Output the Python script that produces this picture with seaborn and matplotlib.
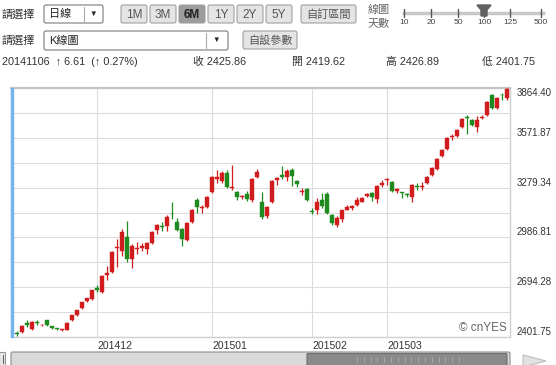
import numpy as np
import pandas as pd
import matplotlib
matplotlib.use("Agg")
import matplotlib.pyplot as plt
import seaborn as sns
from matplotlib.patches import Rectangle, FancyBboxPatch, Polygon

# ---------------- data ----------------
open_ = [2419.62, 2426, 2431, 2484, 2448, 2489, 2470, 2501, 2466, 2450,
         2441, 2443, 2501, 2530, 2571, 2612, 2624, 2688, 2665, 2764,
         2782, 2925, 2905, 2987, 2858, 2917, 2922, 2917, 2952, 3028,
         3055, 3051, 3127, 3080, 3034, 2969, 3075, 3209, 3157, 3168,
         3256, 3332, 3320, 3367, 3275, 3256, 3224, 3244, 3209, 3343,
         3192, 3110, 3192, 3326, 3355, 3343, 3385, 3320, 3253, 3273,
         3140, 3150, 3209, 3244, 3116, 3057, 3092, 3150, 3162, 3180,
         3197, 3232, 3250, 3215, 3297, 3324, 3314, 3262, 3250, 3244,
         3227, 3285, 3281, 3308, 3355, 3390, 3466, 3507, 3578, 3584,
         3636, 3691, 3677, 3636, 3689, 3706, 3823, 3747, 3825, 3806]
high_ = [2426.89, 2437, 2472, 2501, 2495, 2501, 2478, 2504, 2469, 2454,
         2448, 2487, 2533, 2563, 2609, 2633, 2680, 2706, 2765, 2817,
         2905, 2975, 3034, 3086, 2946, 2957, 2952, 2957, 3022, 3063,
         3075, 3116, 3192, 3098, 3040, 3075, 3156, 3221, 3180, 3232,
         3350, 3385, 3379, 3385, 3414, 3262, 3238, 3262, 3338, 3390,
         3256, 3172, 3326, 3344, 3408, 3390, 3396, 3326, 3279, 3279,
         3162, 3221, 3250, 3256, 3127, 3110, 3150, 3180, 3180, 3227,
         3227, 3250, 3256, 3297, 3326, 3338, 3320, 3279, 3256, 3250,
         3303, 3308, 3314, 3350, 3402, 3455, 3508, 3578, 3595, 3625,
         3689, 3706, 3683, 3700, 3706, 3788, 3830, 3812, 3835, 3864.40]
low_ = [2401.75, 2408, 2425, 2460, 2443, 2472, 2466, 2469, 2451, 2442,
        2437, 2440, 2498, 2527, 2568, 2609, 2621, 2665, 2659, 2735,
        2776, 2811, 2876, 2840, 2805, 2887, 2905, 2887, 2946, 3005,
        3022, 3022, 3092, 3022, 2934, 2963, 3069, 3133, 3133, 3162,
        3250, 3308, 3308, 3279, 3268, 3209, 3210, 3198, 3192, 3338,
        3092, 3098, 3186, 3297, 3332, 3320, 3291, 3285, 3238, 3198,
        3122, 3127, 3162, 3127, 3057, 3045, 3080, 3145, 3150, 3174,
        3192, 3227, 3203, 3186, 3285, 3297, 3256, 3250, 3221, 3227,
        3192, 3268, 3268, 3303, 3350, 3385, 3461, 3502, 3560, 3578,
        3630, 3595, 3642, 3607, 3683, 3700, 3741, 3741, 3794, 3794]
close_ = [2425.86, 2421, 2466, 2472, 2489, 2484, 2475, 2472, 2454, 2447,
          2445, 2484, 2530, 2560, 2606, 2630, 2677, 2680, 2759, 2776,
          2899, 2929, 3016, 2858, 2934, 2922, 2934, 2952, 3016, 3057,
          3050, 3104, 3122, 3028, 2975, 3069, 3150, 3168, 3163, 3226,
          3343, 3343, 3367, 3285, 3279, 3227, 3228, 3215, 3332, 3373,
          3104, 3168, 3320, 3338, 3343, 3379, 3350, 3303, 3257, 3209,
          3135, 3197, 3174, 3133, 3069, 3100, 3145, 3165, 3174, 3209,
          3221, 3244, 3227, 3291, 3308, 3326, 3262, 3273, 3247, 3233,
          3297, 3281, 3285, 3343, 3396, 3449, 3502, 3572, 3584, 3619,
          3683, 3689, 3648, 3677, 3695, 3782, 3747, 3806, 3821, 3858]

month_labels = ["201412", "201501", "201502", "201503"]
month_start_idx = [17, 40, 60, 75]

y_min, y_max = 2401.75, 3864.40

header_date = "20141106"
header_change = "\u2191 6.61 (\u2191 0.27%)"
header_fields = [("收", "2425.86"), ("開", "2419.62"), ("高", "2426.89"), ("低", "2401.75")]
period_buttons = ["1M", "3M", "6M", "1Y", "2Y", "5Y"]
day_choices = ["10", "20", "50", "100", "125", "500"]

df = pd.DataFrame({"open": open_, "high": high_, "low": low_, "close": close_})
df["idx"] = np.arange(len(df))
df["up"] = df["close"] >= df["open"]

# ---------------- style ----------------
sns.set_style("white")
plt.rcParams["font.family"] = ["Liberation Sans", "Noto Sans CJK TC", "DejaVu Sans"]

RED = "#d01c1c"
GREEN = "#1f8a1f"
TXT = "#333333"

W, H = 556, 365
fig = plt.figure(figsize=(W / 100, H / 100), dpi=100)
fig.patch.set_facecolor("white")

# overlay in pixel coordinates for UI chrome
ui = fig.add_axes([0, 0, 1, 1], zorder=0)
ui.set_xlim(0, W)
ui.set_ylim(H, 0)
ui.axis("off")

# chart axes
L, R, T, B = 11, 510, 88, 337
ax = fig.add_axes([L / W, 1 - B / H, (R - L) / W, (B - T) / H], zorder=2)
ax.set_facecolor("white")

colors = np.where(df["up"], RED, GREEN)
ax.vlines(df["idx"], df["low"], df["high"], colors=colors, linewidth=0.9, zorder=3)
body_bottom = np.minimum(df["open"], df["close"])
body_h = np.maximum(np.abs(df["close"] - df["open"]), 5.0)
ax.bar(df["idx"], body_h, bottom=body_bottom, width=0.75, color=colors,
       edgecolor=colors, linewidth=0.3, zorder=4)

ax.set_xlim(-0.2, 99.6)
ax.set_ylim(y_min, y_max)

step = (y_max - y_min) / 10
yt = [y_min + k * step for k in range(11)]
ax.set_yticks(yt)
ax.set_yticklabels([f"{v:.2f}" if k % 2 == 0 else "" for k, v in enumerate(yt)])
ax.yaxis.tick_right()
ax.tick_params(axis="y", length=0, pad=5, labelsize=7, labelcolor=TXT)
for k, lab in enumerate(ax.get_yticklabels()):
    lab.set_verticalalignment("top" if k == 10 else "bottom")

ax.set_xticks(month_start_idx)
ax.set_xticklabels(month_labels)
ax.tick_params(axis="x", length=0, pad=3, labelsize=7.5, labelcolor=TXT)
for lab in ax.get_xticklabels():
    lab.set_horizontalalignment("left")

ax.grid(True, color="#dcdcdc", linewidth=0.8)
ax.set_axisbelow(True)
for s in ["left", "right", "bottom"]:
    ax.spines[s].set_color("#cfcfcf")
    ax.spines[s].set_linewidth(1.0)
ax.spines["top"].set_color("#c4c4c4")
ax.spines["top"].set_linewidth(1.6)

ax.text(0.993, 0.038, "\u00a9 cnYES", transform=ax.transAxes, ha="right", va="center",
        fontsize=8.5, color="#666666", zorder=5)

# blue marker line at left of chart
ax.add_patch(Rectangle((0, 0), 0.004, 1, transform=ax.transAxes, color="#74b4ee",
                       zorder=6, clip_on=False))

# ---------------- UI chrome ----------------
def box(x0, y0, x1, y1, fc, ec, lw=0.8, r=2, z=1):
    ui.add_patch(FancyBboxPatch((x0, y0), x1 - x0, y1 - y0,
                                boxstyle=f"round,pad=0,rounding_size={r}",
                                fc=fc, ec=ec, lw=lw, zorder=z))

# row 1
ui.text(2, 14, "請選擇", fontsize=8, color=TXT, va="center", ha="left")
box(44, 5, 103, 23, "white", "#7a7a7a")
ui.text(49, 14, "日線", fontsize=8, color="#222", va="center", ha="left")
ui.plot([84, 84], [7, 21], color="#aaaaaa", lw=0.8)
ui.text(93.5, 14, "\u25bc", fontsize=5.5, color="#222", va="center", ha="center")

bx = [121, 150, 179, 208, 237, 266]
for lab, x0 in zip(period_buttons, bx):
    sel = lab == "6M"
    box(x0, 5, x0 + 26, 23, "#9c9c9c" if sel else "#e4e4e4", "#a0a0a0")
    ui.text(x0 + 13, 14.5, lab, fontsize=8.5, color="#222" if sel else "#555",
            fontweight="bold" if sel else "normal", ha="center", va="center")
box(301, 5, 356, 23, "#e4e4e4", "#a0a0a0")
ui.text(328.5, 14.5, "自訂區間", fontsize=8, color="#555", ha="center", va="center")

ui.text(368, 10, "線圖", fontsize=8, color="#666", ha="left", va="center")
ui.text(368, 23, "天數", fontsize=8, color="#666", ha="left", va="center")
ui.plot([402, 545], [13, 13], color="#c8c8c8", lw=2.5, solid_capstyle="butt")
tick_x = [404, 431, 458, 484, 510, 541]
for tx, lab in zip(tick_x, day_choices):
    ui.plot([tx, tx], [9, 17], color="#555555", lw=1)
    ui.text(tx, 23, lab, fontsize=6, color="#444", ha="center", va="center")
ui.add_patch(Polygon([(477, 5), (491, 5), (487, 10), (487, 16), (481, 16), (481, 10)],
                     closed=True, fc="#606060", ec="#606060", zorder=3))

# row 2
ui.text(2, 40, "請選擇", fontsize=8, color=TXT, va="center", ha="left")
box(44, 31, 228, 50, "white", "#7a7a7a")
ui.text(49, 40.5, "K線圖", fontsize=8, color="#222", va="center", ha="left")
ui.plot([206, 206], [33, 48], color="#aaaaaa", lw=0.8)
ui.text(216.5, 40.5, "\u25bc", fontsize=5.5, color="#222", va="center", ha="center")
box(243, 31, 297, 49, "#e4e4e4", "#a0a0a0")
ui.text(270, 40.5, "自設參數", fontsize=8, color="#555", ha="center", va="center")

# row 3
ui.text(2, 62, f"{header_date}  {header_change.replace('(', ' (')}", fontsize=7.8,
        color=TXT, va="center", ha="left")
for (k, v), x0 in zip(header_fields, [193, 292, 386, 482]):
    ui.text(x0, 62, f"{k} {v}", fontsize=7.8, color=TXT, va="center", ha="left")

# bottom scrollbar
ui.add_patch(Rectangle((-1, 352), 6, 14, fc="#e8e8e8", ec="#999999", lw=0.8))
ui.plot([2.5, 2.5], [355, 363], color="#666", lw=0.8)
box(11, 352, 510, 366, "#d9d9d9", "#8c8c8c", r=1.5)
box(307, 353.5, 507, 366, "#8a8a8a", "#6e6e6e", r=1)
for tx in np.arange(357, 460, 6.8):
    ui.plot([tx, tx], [357, 362], color="#a8a8a8", lw=0.7, zorder=3)
ui.add_patch(Polygon([(523, 355), (546, 361), (523, 367)], closed=True,
                     fc="#e2e2e2", ec="#bdbdbd", lw=0.8))

fig.savefig("out.png", dpi=100, facecolor="white")
